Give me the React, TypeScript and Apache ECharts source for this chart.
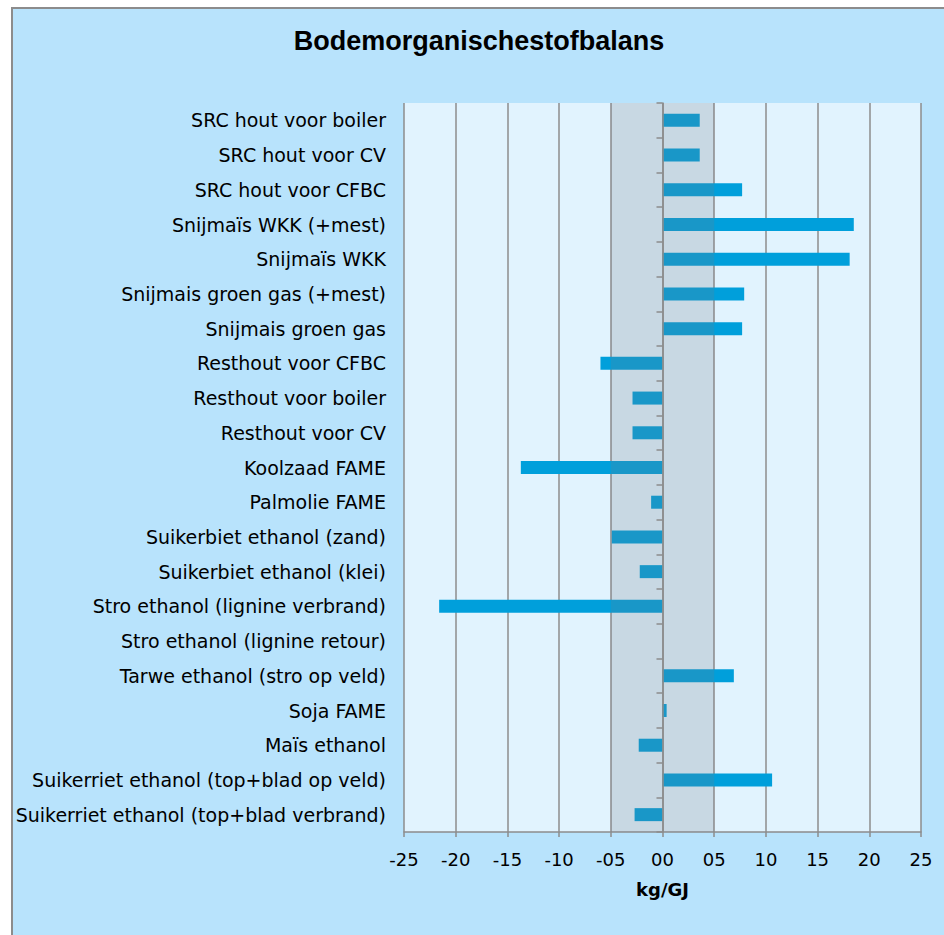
import React, { useEffect, useRef } from "react";
import * as echarts from "echarts";

const TITLE = "Bodemorganischestofbalans";
const AXIS_NAME = "kg/GJ";

const categories: string[] = [
  "SRC hout voor boiler",
  "SRC hout voor CV",
  "SRC hout voor CFBC",
  "Snijmaïs WKK (+mest)",
  "Snijmaïs WKK",
  "Snijmais groen gas (+mest)",
  "Snijmais groen gas",
  "Resthout voor CFBC",
  "Resthout voor boiler",
  "Resthout voor CV",
  "Koolzaad FAME",
  "Palmolie FAME",
  "Suikerbiet ethanol (zand)",
  "Suikerbiet ethanol (klei)",
  "Stro ethanol (lignine verbrand)",
  "Stro ethanol (lignine retour)",
  "Tarwe ethanol (stro op veld)",
  "Soja FAME",
  "Maïs ethanol",
  "Suikerriet ethanol (top+blad op veld)",
  "Suikerriet ethanol (top+blad verbrand)",
];

const values: number[] = [
  3.6, 3.6, 7.7, 18.5, 18.1, 7.9, 7.7, -6.0, -2.9, -2.9, -13.7, -1.1, -4.9,
  -2.2, -21.6, 0, 6.9, 0.4, -2.3, 10.6, -2.7,
];

const bandRange: number[] = [-5, 5];
const xMin = -25;
const xMax = 25;
const xInterval = 5;

const fmtTick = (v: number) =>
  (v < 0 ? "-" : "") + String(Math.abs(v)).padStart(2, "0");

export default function App() {
  const ref = useRef<HTMLDivElement>(null);

  useEffect(() => {
    if (!ref.current) return;
    const chart = echarts.init(ref.current, undefined, { renderer: "svg" });
    const labelFont = "DejaVu Sans";
    chart.setOption({
      animation: false,
      backgroundColor: "transparent",
      graphic: [
        {
          type: "text",
          x: 479,
          y: 41,
          style: {
            text: TITLE,
            textAlign: "center",
            textVerticalAlign: "middle",
            fontFamily: "Liberation Sans",
            fontWeight: "bold",
            fontSize: 27,
            fill: "#000",
          },
        },
      ],
      grid: {
        left: 404,
        right: 23,
        top: 103,
        bottom: 103,
        show: true,
        backgroundColor: "#e1f3fe",
        borderWidth: 0,
      },
      xAxis: {
        type: "value",
        min: xMin,
        max: xMax,
        interval: xInterval,
        name: AXIS_NAME,
        nameLocation: "middle",
        nameGap: 48,
        nameTextStyle: {
          fontFamily: labelFont,
          fontWeight: "bold",
          fontSize: 18,
          color: "#000",
        },
        axisLine: { show: true, lineStyle: { color: "#8c8c8c", width: 1.5 } },
        axisTick: { show: true, length: 5, lineStyle: { color: "#8c8c8c", width: 1.5 } },
        axisLabel: {
          formatter: fmtTick,
          fontFamily: labelFont,
          fontSize: 18,
          color: "#000",
          margin: 18,
        },
        splitLine: { show: true, lineStyle: { color: "#8c8c8c", width: 1.5 } },
      },
      yAxis: [
        {
          type: "category",
          data: categories,
          inverse: true,
          position: "left",
          axisLine: { show: false, onZero: false },
          axisTick: { show: false },
          axisLabel: {
            fontFamily: labelFont,
            fontSize: 19,
            color: "#000",
            margin: 18,
          },
          splitLine: { show: false },
        },
        {
          type: "category",
          data: categories,
          inverse: true,
          position: "left",
          z: 10,
          axisLine: { show: true, onZero: true, lineStyle: { color: "#8c8c8c", width: 1.5 } },
          axisTick: { show: true, length: 6, lineStyle: { color: "#8c8c8c", width: 1.5 } },
          axisLabel: { show: false },
          splitLine: { show: false },
        },
      ],
      series: [
        {
          type: "bar",
          yAxisIndex: 0,
          data: values,
          barWidth: 13,
          itemStyle: { color: "#009fdb" },
          markArea: {
            silent: true,
            z: 5,
            itemStyle: { color: "rgba(115,124,130,0.22)" },
            data: [[{ xAxis: bandRange[0] }, { xAxis: bandRange[1] }]],
          },
        },
      ],
    });
    return () => chart.dispose();
  }, []);

  return (
    <div
      style={{
        position: "absolute",
        left: 0,
        top: 0,
        width: 944,
        height: 935,
        background: "#ffffff",
        overflow: "hidden",
      }}
    >
      <div
        style={{
          position: "absolute",
          left: 11,
          top: 7,
          width: 1000,
          height: 1000,
          background: "#b8e3fc",
          borderLeft: "2px solid #8c8c8c",
          borderTop: "2px solid #8c8c8c",
        }}
      />
      <div
        ref={ref}
        style={{ position: "absolute", left: 0, top: 0, width: 944, height: 935 }}
      />
    </div>
  );
}
